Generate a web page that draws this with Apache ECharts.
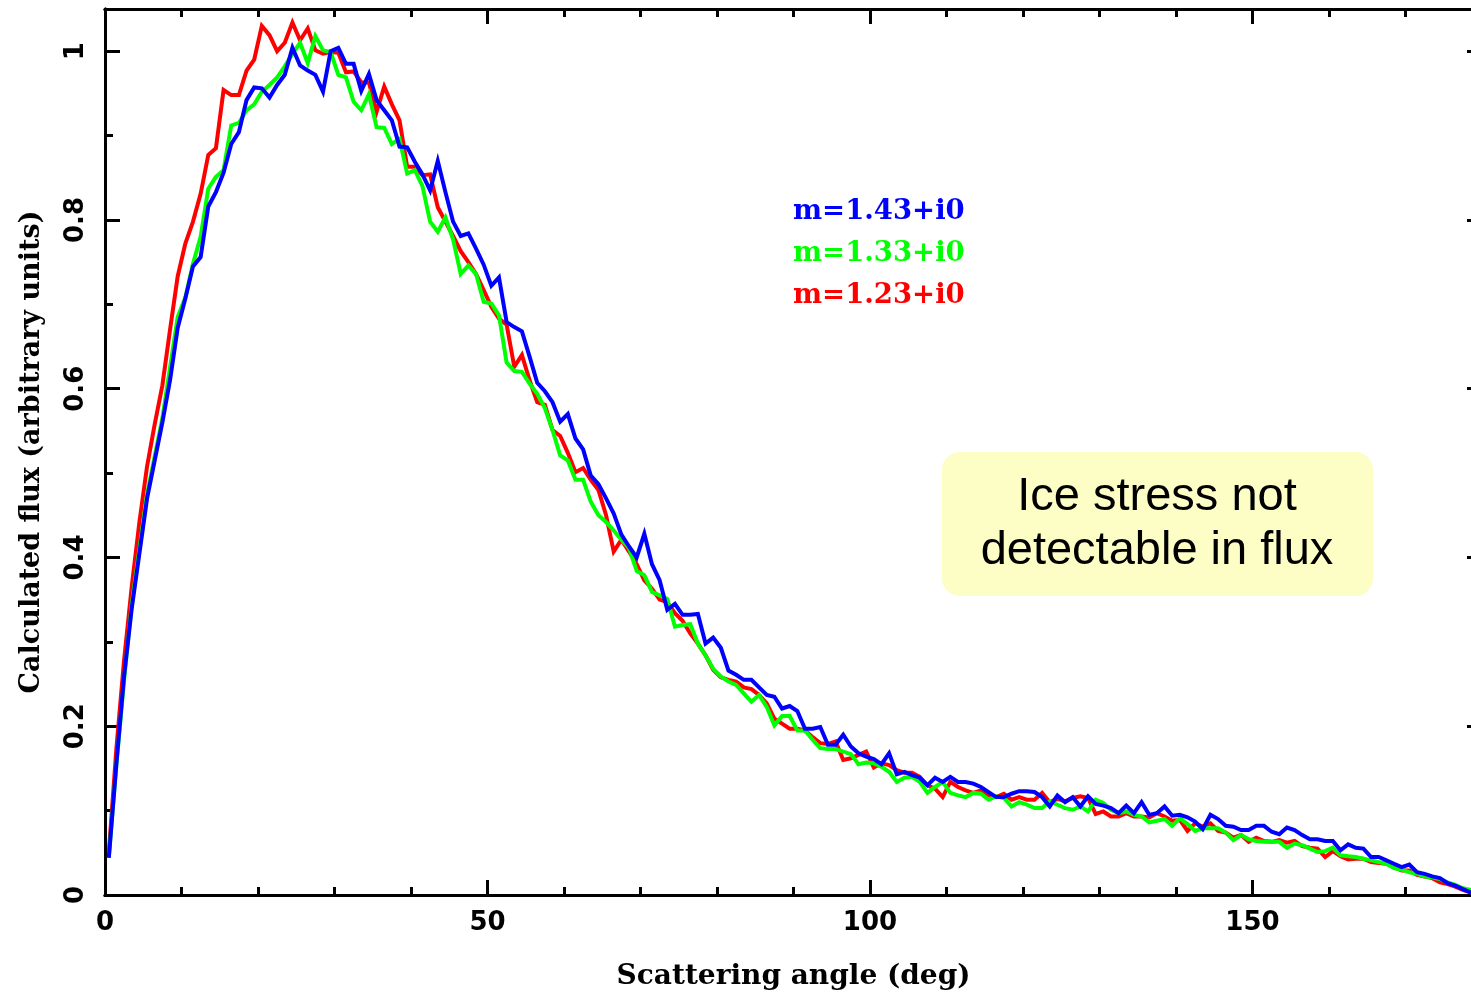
<!DOCTYPE html>
<html>
<head>
<meta charset="utf-8">
<script src="https://cdn.jsdelivr.net/npm/echarts@6/dist/echarts.min.js"></script>
<style>
html,body{margin:0;padding:0;background:#fff;}
#chart{width:1471px;height:992px;}
</style>
</head>
<body>
<div id="chart"></div>
<script>
// Sampling grid of scattering angle (bin centres, deg)
const angleStart = 0.5;
const angleStep = 1;

// m = 1.43 + i0 (blue)
const flux143 = [
0.044,0.157,0.260,0.340,0.405,0.470,0.515,0.560,0.610,0.672,
0.707,0.745,0.756,0.816,0.833,0.856,0.890,0.904,0.942,0.957,
0.956,0.945,0.960,0.972,1.004,0.983,0.977,0.972,0.952,1.000,
1.004,0.985,0.985,0.953,0.973,0.942,0.930,0.918,0.887,0.886,
0.869,0.854,0.835,0.870,0.833,0.798,0.781,0.784,0.766,0.747,
0.722,0.732,0.679,0.673,0.668,0.638,0.607,0.597,0.584,0.561,
0.570,0.541,0.528,0.497,0.487,0.470,0.452,0.427,0.413,0.400,
0.428,0.392,0.373,0.338,0.345,0.332,0.332,0.333,0.298,0.305,
0.293,0.266,0.261,0.255,0.255,0.246,0.237,0.235,0.221,0.224,
0.218,0.197,0.197,0.199,0.178,0.178,0.190,0.176,0.168,0.164,
0.161,0.155,0.168,0.143,0.146,0.142,0.139,0.130,0.139,0.134,
0.140,0.134,0.134,0.132,0.128,0.122,0.116,0.116,0.120,0.123,
0.123,0.122,0.116,0.105,0.118,0.110,0.116,0.105,0.117,0.108,
0.106,0.103,0.097,0.106,0.097,0.110,0.095,0.097,0.105,0.094,
0.095,0.092,0.087,0.078,0.095,0.090,0.082,0.081,0.077,0.077,
0.082,0.082,0.075,0.072,0.080,0.077,0.071,0.066,0.066,0.064,
0.064,0.053,0.060,0.056,0.055,0.045,0.045,0.041,0.037,0.033,
0.036,0.027,0.025,0.022,0.020,0.014,0.011,0.007,0.003,0.000
];

// m = 1.33 + i0 (green)
const flux133 = [
0.045,0.155,0.255,0.345,0.410,0.475,0.520,0.565,0.625,0.685,
0.708,0.748,0.780,0.837,0.851,0.859,0.912,0.915,0.930,0.937,
0.952,0.960,0.969,0.982,0.997,1.010,0.986,1.018,1.001,0.999,
0.972,0.969,0.940,0.930,0.949,0.910,0.909,0.890,0.896,0.855,
0.859,0.840,0.798,0.786,0.803,0.777,0.736,0.746,0.736,0.703,
0.701,0.687,0.631,0.621,0.620,0.606,0.594,0.577,0.551,0.521,
0.515,0.492,0.492,0.466,0.450,0.442,0.432,0.421,0.411,0.384,
0.379,0.359,0.355,0.351,0.318,0.320,0.321,0.298,0.284,0.268,
0.259,0.253,0.249,0.239,0.229,0.237,0.223,0.201,0.212,0.212,
0.195,0.195,0.184,0.174,0.173,0.173,0.170,0.167,0.155,0.157,
0.156,0.152,0.146,0.134,0.139,0.140,0.134,0.121,0.128,0.134,
0.121,0.118,0.116,0.121,0.120,0.113,0.117,0.115,0.105,0.110,
0.107,0.103,0.103,0.111,0.107,0.103,0.101,0.105,0.099,0.113,
0.109,0.101,0.097,0.099,0.095,0.093,0.086,0.088,0.090,0.082,
0.091,0.084,0.076,0.079,0.079,0.079,0.074,0.065,0.071,0.066,
0.064,0.063,0.063,0.063,0.056,0.061,0.059,0.055,0.051,0.052,
0.056,0.047,0.046,0.045,0.043,0.041,0.039,0.037,0.032,0.030,
0.027,0.025,0.022,0.021,0.019,0.015,0.012,0.008,0.006,0.003
];

// m = 1.23 + i0 (red)
const flux123 = [
0.050,0.175,0.279,0.366,0.442,0.508,0.558,0.604,0.670,0.733,
0.772,0.798,0.831,0.877,0.885,0.954,0.948,0.948,0.977,0.990,
1.030,1.019,1.000,1.010,1.034,1.013,1.027,1.001,0.997,0.999,
0.998,0.975,0.976,0.963,0.963,0.928,0.958,0.937,0.918,0.863,
0.863,0.853,0.854,0.815,0.798,0.781,0.763,0.750,0.736,0.717,
0.697,0.683,0.676,0.626,0.640,0.610,0.584,0.581,0.551,0.544,
0.524,0.501,0.506,0.492,0.480,0.450,0.407,0.421,0.407,0.392,
0.373,0.363,0.350,0.347,0.334,0.325,0.310,0.298,0.284,0.267,
0.258,0.255,0.253,0.246,0.244,0.237,0.227,0.209,0.203,0.197,
0.197,0.195,0.187,0.180,0.179,0.182,0.160,0.162,0.166,0.170,
0.151,0.156,0.154,0.148,0.145,0.145,0.140,0.130,0.126,0.116,
0.134,0.128,0.124,0.121,0.124,0.118,0.116,0.120,0.113,0.116,
0.113,0.113,0.121,0.110,0.114,0.111,0.115,0.117,0.115,0.096,
0.099,0.093,0.093,0.097,0.093,0.093,0.092,0.097,0.093,0.088,
0.089,0.076,0.085,0.081,0.085,0.076,0.074,0.068,0.071,0.063,
0.068,0.064,0.063,0.065,0.062,0.064,0.058,0.056,0.055,0.045,
0.052,0.046,0.042,0.043,0.043,0.039,0.038,0.037,0.033,0.029,
0.029,0.024,0.022,0.020,0.015,0.013,0.010,0.006,0.003,0.000
];

const seriesNames = ['m=1.43+i0', 'm=1.33+i0', 'm=1.23+i0'];
const xTitle = 'Scattering angle (deg)';
const yTitle = 'Calculated flux (arbitrary units)';
const noteLines = ['Ice stress not', 'detectable in flux'];

function pairs(arr) {
  return arr.map((v, i) => [angleStart + i * angleStep, v]);
}

const chart = echarts.init(document.getElementById('chart'), null, {renderer: 'canvas'});

const X_MIN = 0, X_MAX = 180, Y_MIN = 0, Y_MAX = 1.05;
const lineCol = '#000';
const tickFont = {fontFamily: 'DejaVu Sans', fontWeight: 'bold', fontSize: 26, color: '#000'};
const xTitleFont = {fontFamily: 'DejaVu Serif', fontWeight: 'bold', fontSize: 28, color: '#000'};
const yTitleFont = {fontFamily: 'DejaVu Serif', fontWeight: 'bold', fontSize: 27, color: '#000'};

function xAx(pos, interval, len, labels, extra) {
  return Object.assign({
    type: 'value', position: pos, min: X_MIN, max: X_MAX, interval: interval,
    axisLine: {show: true, onZero: false, lineStyle: {color: lineCol, width: 3}},
    axisTick: {show: true, inside: true, length: len, lineStyle: {color: lineCol, width: 3}},
    axisLabel: labels ? Object.assign({show: true, margin: 15, showMaxLabel: false}, tickFont) : {show: false},
    splitLine: {show: false}
  }, extra || {});
}
function yAx(pos, interval, len, labels, extra) {
  return Object.assign({
    type: 'value', position: pos, min: Y_MIN, max: Y_MAX, interval: interval,
    axisLine: {show: true, onZero: false, lineStyle: {color: lineCol, width: 3}},
    axisTick: {show: true, inside: true, length: len, lineStyle: {color: lineCol, width: 3}},
    axisLabel: labels ? Object.assign({show: true, margin: 16, rotate: 90, showMaxLabel: false}, tickFont) : {show: false},
    splitLine: {show: false}
  }, extra || {});
}

const seriesColors = ['#0000ff', '#00ff00', '#ff0000'];
const dataSets = [flux143, flux133, flux123];

const option = {
  animation: false,
  backgroundColor: '#ffffff',
  grid: {left: 105, top: 9, right: -11, bottom: 97, containLabel: false, outerBoundsMode: 'none'},
  xAxis: [
    xAx('bottom', 50, 15, true, {
      name: xTitle, nameLocation: 'middle', nameGap: 68,
      nameTextStyle: xTitleFont
    }),
    xAx('bottom', 10, 8, false),
    xAx('top', 50, 15, false),
    xAx('top', 10, 8, false)
  ],
  yAxis: [
    yAx('left', 0.2, 15, true, {
      name: yTitle, nameLocation: 'middle', nameGap: 60, nameRotate: 90,
      nameTextStyle: yTitleFont
    }),
    yAx('left', 0.1, 8, false),
    yAx('right', 0.2, 15, false),
    yAx('right', 0.1, 8, false)
  ],
  series: [2, 1, 0].map(k => ({
    name: seriesNames[k],
    type: 'line',
    xAxisIndex: 0,
    yAxisIndex: 0,
    data: pairs(dataSets[k]),
    showSymbol: false,
    symbol: 'none',
    smooth: false,
    lineStyle: {color: seriesColors[k], width: 4, join: 'miter'},
    itemStyle: {color: seriesColors[k]},
    z: 3 + (2 - k)
  })),
  graphic: [
    {type: 'text', x: 793, y: 212, z: 20, style: {text: seriesNames[0], fill: seriesColors[0], font: 'bold 27.5px "DejaVu Serif"', verticalAlign: 'middle', align: 'left'}},
    {type: 'text', x: 793, y: 254, z: 20, style: {text: seriesNames[1], fill: seriesColors[1], font: 'bold 27.5px "DejaVu Serif"', verticalAlign: 'middle', align: 'left'}},
    {type: 'text', x: 793, y: 296, z: 20, style: {text: seriesNames[2], fill: seriesColors[2], font: 'bold 27.5px "DejaVu Serif"', verticalAlign: 'middle', align: 'left'}},
    {type: 'rect', z: 20, shape: {x: 942, y: 452, width: 431, height: 144, r: 18}, style: {fill: '#fdfdc6'}},
    {type: 'text', x: 1157, y: 497, z: 21, style: {text: noteLines[0], fill: '#000', font: '47px "Liberation Sans"', verticalAlign: 'middle', align: 'center'}},
    {type: 'text', x: 1157, y: 551, z: 21, style: {text: noteLines[1], fill: '#000', font: '47px "Liberation Sans"', verticalAlign: 'middle', align: 'center'}}
  ]
};
chart.setOption(option);
</script>
</body>
</html>
